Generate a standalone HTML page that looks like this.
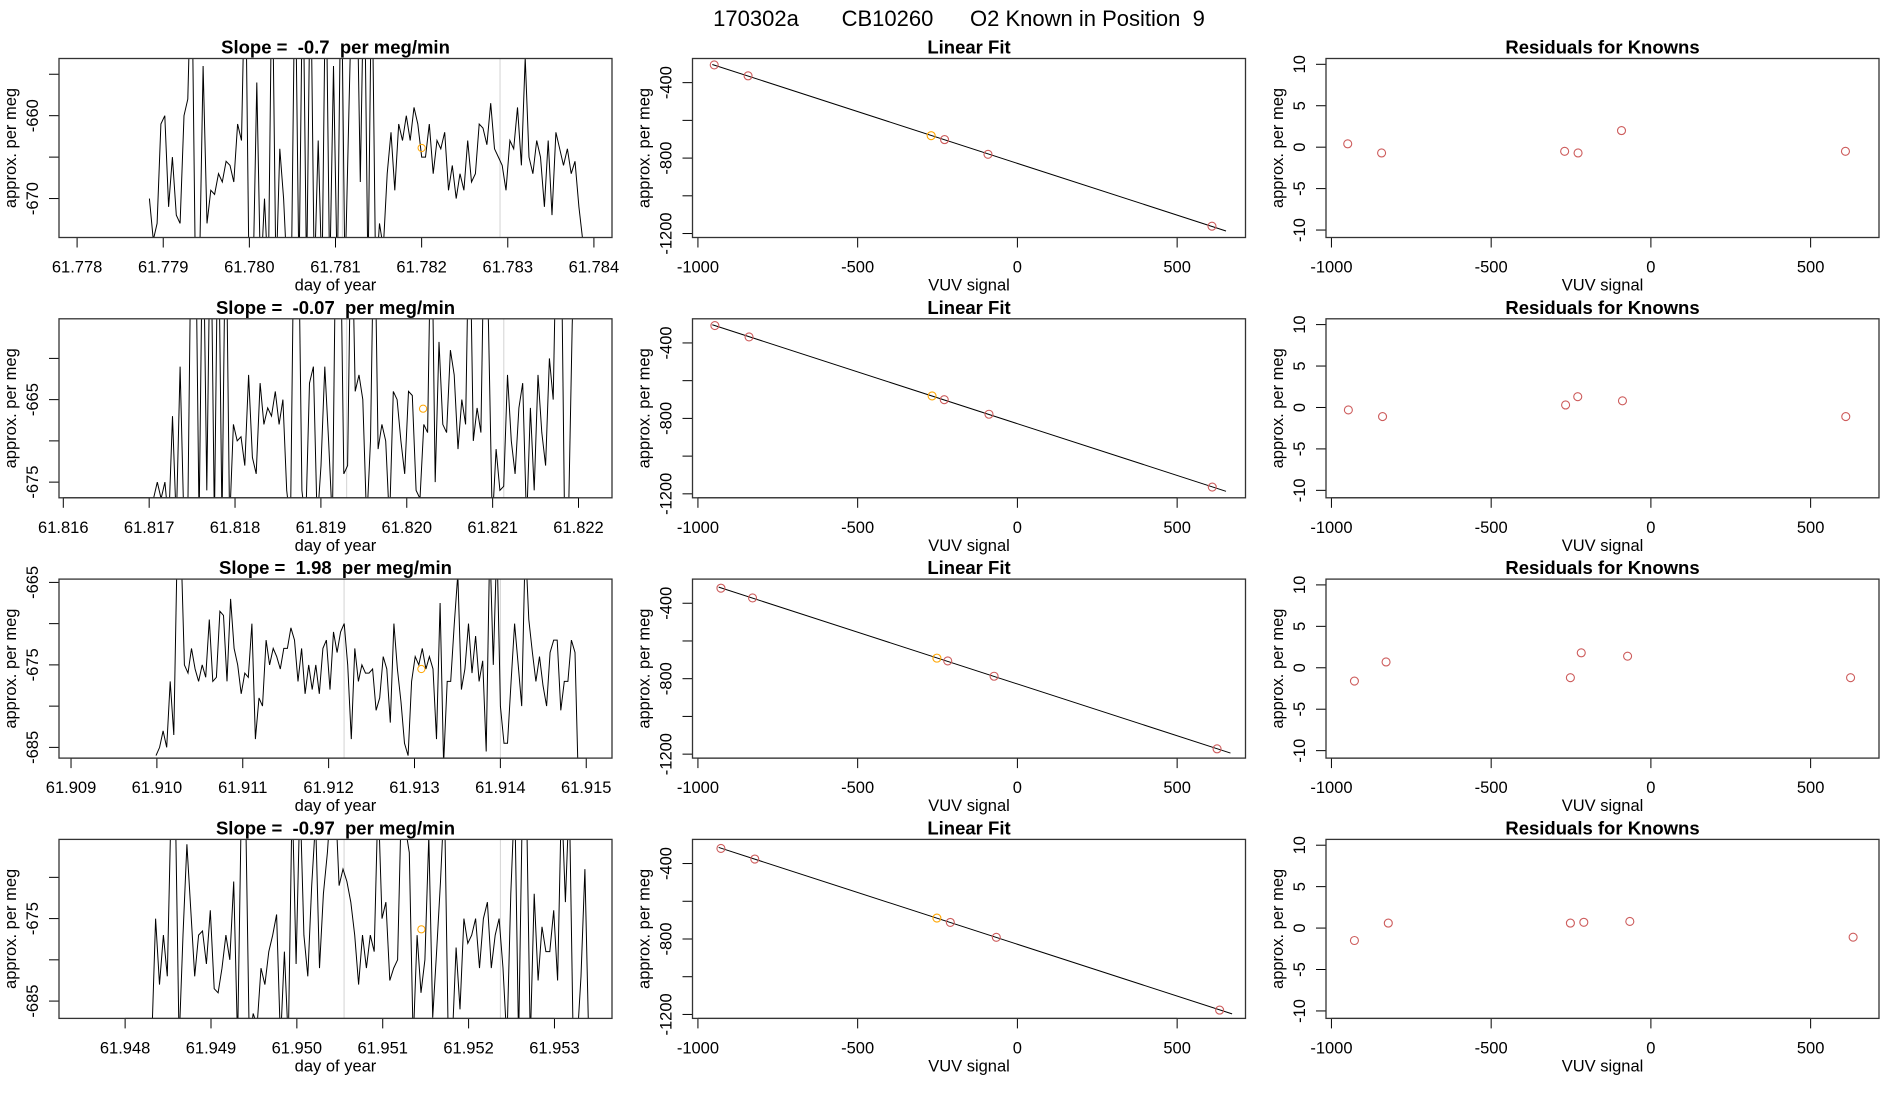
<!DOCTYPE html>
<html><head><meta charset="utf-8"><title>170302a CB10260 O2 Known in Position 9</title>
<style>
html,body{margin:0;padding:0;background:#fff;}
svg{display:block;font-family:"Liberation Sans",sans-serif;}
text{white-space:pre;}
</style></head>
<body>
<svg id="fig" width="1900" height="1100" viewBox="0 0 1900 1100" xmlns="http://www.w3.org/2000/svg">
<rect width="1900" height="1100" fill="#fff"/>
<text x="959" y="26" font-size="22" text-anchor="middle">170302a       CB10260      O2 Known in Position  9</text>
</svg>
<script>
// ---------- time-series data (col 1) ----------
const tsTitles = ["Slope =  -0.7  per meg/min","Slope =  -0.07  per meg/min","Slope =  1.98  per meg/min","Slope =  -0.97  per meg/min"];
const tsXlim = [[61.77779,61.78421],[61.81595,61.82239],[61.90886,61.91530],[61.94723,61.95367]];
const tsYlim = [[-674.7,-653.1],[-676.9,-655.2],[-686.3,-664.6],[-687.1,-665.4]];
const tsXticks = [[61.778,61.779,61.780,61.781,61.782,61.783,61.784],[61.816,61.817,61.818,61.819,61.820,61.821,61.822],[61.909,61.910,61.911,61.912,61.913,61.914,61.915],[61.948,61.949,61.950,61.951,61.952,61.953]];
const tsYticks = [[-670,-665,-660,-655],[-675,-670,-665,-660],[-685,-680,-675,-670,-665],[-685,-680,-675,-670]];
const tsYlabels = [[-670,-660],[-675,-665],[-685,-675,-665],[-685,-675]];
const tsStart = [61.77884,61.81705,61.90999,61.94831];
const tsEnd = [61.78387,61.82206,61.91491,61.95340];
const tsGrey = [[61.78108,61.78291],[61.81930,61.82113],[61.91218,61.91400],[61.95055,61.95237]];
const tsMarkX = [61.78200,61.82019,61.91308,61.95145];
const tsMarkY = [-663.9,-666.1,-675.5,-676.3];
const ts1 = [-670,-675,-673,-661,-660,-671,-665,-672,-673,-660,-658,-640,-680,-680,-654,-673,-669,-669.5,-667,-668,-665.5,-666,-668,-661,-663,-640,-680,-680,-656,-680,-670,-680,-640,-680,-664,-670,-680,-680,-640,-680,-640,-680,-640,-680,-663,-680,-640,-680,-654,-680,-640,-680,-660,-640,-640,-668,-640,-680,-640,-680,-673,-676,-667,-662,-669,-661,-663,-660,-663,-659,-661,-665,-665,-661,-667,-663,-664,-662,-669,-666,-670,-667,-669,-663,-668,-667,-661,-661.5,-663.5,-658.5,-664,-665,-666,-669,-663,-664,-659,-666,-653,-665,-667,-663,-665,-671,-663,-672,-662,-664,-666,-664,-667,-665.5,-671,-675];
const ts2 = [-677,-675,-677,-675,-680,-667,-680,-661,-680,-680,-640,-640,-680,-640,-676,-640,-680,-640,-680,-640,-680,-668,-670,-669.5,-673,-662,-672,-674,-663,-668,-666,-667,-664,-668,-665,-676,-680,-640,-640,-676,-680,-663,-661,-680,-673,-661,-670,-680,-640,-640,-674,-673,-640,-664,-662,-665,-680,-670,-640,-671,-668,-670,-680,-664,-665,-670,-674,-664,-664.5,-676,-677,-668,-669,-640,-675,-658,-668,-669,-659,-662,-671,-665,-668,-640,-670,-666,-669,-640,-656,-680,-671,-676,-675.5,-662,-670,-674,-666,-663,-680,-666,-676,-662,-669,-673,-660,-665,-640,-640,-680,-680,-656,-640,-640,-640];
const ts3 = [-686,-685,-683,-685,-677,-683.5,-660,-660,-675,-676,-673,-675.5,-677,-675,-676.5,-669.5,-677,-676.5,-668.5,-669,-677,-667,-673,-675,-678.5,-676,-676.5,-670,-684,-679,-680,-672,-675,-673,-674,-675.5,-673,-673,-670.5,-672,-677,-673,-678.5,-675,-678,-675,-678.5,-673,-672,-678,-671,-673.5,-671,-670,-675,-684,-673,-677,-675,-676,-676,-675.5,-680.5,-679,-674,-675.5,-682,-670,-675.5,-679.5,-684.5,-686,-677,-674,-675,-673,-675.5,-674,-675.5,-684,-667.5,-687,-677,-677,-670,-664,-678,-675.5,-670,-676,-671.5,-677,-674.5,-685.5,-660,-675,-660,-680,-684.5,-684.5,-677,-670,-675,-680,-660,-669.5,-673.5,-677,-674,-677.5,-680,-673.5,-672,-672,-680.5,-677,-677,-672,-673.5,-690];
const ts4 = [-690,-675,-683,-677,-682,-660,-660,-690,-677,-666,-674,-682,-677,-676.5,-680.5,-674,-683.5,-684,-681,-677,-680,-670.5,-690,-660,-660,-690,-686.5,-688,-681,-683,-679,-677,-674.5,-690,-679,-690,-660,-680.5,-660,-677,-682,-671,-663,-681,-672,-667,-660,-660,-671,-669,-670.5,-673,-677,-683,-677,-681,-677,-679,-660,-675,-673,-682.5,-681,-680,-660,-664,-667,-690,-677,-684,-680,-665,-687,-679,-670.5,-660,-690,-690,-678.5,-686,-675,-678,-677,-675,-681,-675,-673,-681,-677,-675,-681,-690,-672,-660,-690,-660,-660,-690,-672,-682.5,-676,-679,-679,-674,-682.5,-660,-673,-660,-690,-690,-682,-669,-690];
const tsSeries = [ts1,ts2,ts3,ts4];

// ---------- linear-fit data (col 2) ----------
const knownX1 = [-949,-843,-270,-228,-92,609];
const knownY1 = [-306,-364,-681,-702,-780,-1161];
const knownX2 = [-947,-840,-267,-229,-89,610];
const knownY2 = [-308,-368,-681,-701,-778,-1164];
const knownX3 = [-928,-829,-252,-218,-73,625];
const knownY3 = [-320,-372,-691,-706,-787,-1172];
const knownX4 = [-928,-822,-252,-210,-66,633];
const knownY4 = [-320,-376,-689,-712,-791,-1177];
const knownXs = [knownX1,knownX2,knownX3,knownX4];
const knownYs = [knownY1,knownY2,knownY3,knownY4];
const fitIntercept = [-828,-828,-828,-828];
const fitSlope = [-0.549,-0.549,-0.549,-0.549];
const fitXrange = [[-955,653],[-955,653],[-935,667],[-935,672]];
const orangeIndex = [2,2,2,2];
const lfXlim = [-1017,714];
const lfYlim = [-1221,-272];
const lfXticks = [-1000,-500,0,500];
const lfYticks = [-1200,-1000,-800,-600,-400];
const lfYlabels = [-1200,-800,-400];

// ---------- residual data (col 3) ----------
const resid1 = [0.4,-0.7,-0.5,-0.7,2.0,-0.5];
const resid2 = [-0.3,-1.1,0.3,1.3,0.8,-1.1];
const resid3 = [-1.6,0.7,-1.2,1.8,1.4,-1.2];
const resid4 = [-1.5,0.6,0.6,0.7,0.8,-1.1];
const resids = [resid1,resid2,resid3,resid4];
const resYlim = [-10.9,10.7];
const resYticks = [-10,-5,0,5,10];

const NS = "http://www.w3.org/2000/svg";
const svg = document.getElementById('fig');
function el(tag, attrs, parent, txt){
  const e = document.createElementNS(NS, tag);
  for (const k in attrs) e.setAttribute(k, attrs[k]);
  if (txt !== undefined) e.textContent = txt;
  (parent||svg).appendChild(e);
  return e;
}
function fmt(v, d){ return v.toFixed(d); }

function panel(col, row, cfg){
  const L = 59 + col*633.5, R = L + 553, T = 58.5 + row*260.3, B = T + 179;
  const g = el('g', {});
  
  
  const sx = v => L + (v - cfg.xlim[0])/(cfg.xlim[1]-cfg.xlim[0])*(R-L);
  const sy = v => B - (v - cfg.ylim[0])/(cfg.ylim[1]-cfg.ylim[0])*(B-T);
  const cid = 'clip'+col+'_'+row;
  const cp = el('clipPath', {id:cid}, g);
  el('rect', {x:L, y:T, width:R-L, height:B-T}, cp);
  const plot = el('g', {'clip-path':'url(#'+cid+')'}, g);
  
  
  const tt = el('text', {x:(L+R)/2, y:T-5, 'font-size':18.5, 'font-weight':'bold', 'text-anchor':'middle'}, g, cfg.title);
  
  
  const xt = el('g', {}, g);
  
  
  const x0 = sx(cfg.xticks[0]), x1 = sx(cfg.xticks[cfg.xticks.length-1]);
  el('line', {x1:x0, x2:x1, y1:B, y2:B, stroke:'#000', 'stroke-width':1}, xt);
  cfg.xticks.forEach(v => {
    const x = sx(v);
    el('line', {x1:x, x2:x, y1:B, y2:B+10, stroke:'#000', 'stroke-width':1}, xt);
    const t = el('text', {x:x, y:B+35, 'font-size':16.5, 'text-anchor':'middle'}, xt, cfg.xfmt(v));
    
    
  });
  const xl = el('text', {x:(L+R)/2, y:B+53, 'font-size':16.5, 'text-anchor':'middle'}, g, cfg.xlabel);
  
  
  const yt = el('g', {}, g);
  
  
  cfg.yticks.forEach(v => {
    const y = sy(v);
    el('line', {x1:L-10, x2:L, y1:y, y2:y, stroke:'#000', 'stroke-width':1}, yt);
  });
  cfg.ylabels.forEach(v => {
    const y = sy(v);
    const t = el('text', {x:0, y:0, 'font-size':16.5, 'text-anchor':'middle', transform:'translate('+(L-21)+','+y+') rotate(-90)'}, yt, String(v));
    
    
  });
  const yl = el('text', {x:0, y:0, 'font-size':16.5, 'text-anchor':'middle', transform:'translate('+(L-43)+','+((T+B)/2)+') rotate(-90)'}, g, 'approx. per meg');
  
  
  cfg.draw(plot, sx, sy);
  const bx = el('rect', {x:L, y:T, width:R-L, height:B-T, fill:'none', stroke:'#333', 'stroke-width':1.3}, g);
  
  
}

for (let r = 0; r < 4; r++){
  panel(0, r, {
    name:'time-series-panel-'+(r+1), title:tsTitles[r], xlim:tsXlim[r], ylim:tsYlim[r],
    xticks:tsXticks[r], yticks:tsYticks[r], ylabels:tsYlabels[r], xlabel:'day of year',
    xfmt: v => fmt(v,3),
    draw:(p, sx, sy) => {
      tsGrey[r].forEach(t => {
        const gl = el('line', {x1:sx(t), x2:sx(t), y1:0, y2:1100, stroke:'#d3d3d3', 'stroke-width':1}, p);
        
        
      });
      const vals = tsSeries[r];
      const n = vals.length;
      const pts = vals.map((v,i) => sx(tsStart[r] + (tsEnd[r]-tsStart[r])*i/(n-1)).toFixed(1)+','+sy(v).toFixed(1)).join(' ');
      const pl = el('polyline', {points:pts, fill:'none', stroke:'#000', 'stroke-width':1}, p);
      
      
      const c = el('circle', {cx:sx(tsMarkX[r]), cy:sy(tsMarkY[r]), r:3.6, fill:'none', stroke:'#ffa500', 'stroke-width':1}, p);
      
      
    }
  });
  panel(1, r, {
    name:'linear-fit-panel-'+(r+1), title:'Linear Fit', xlim:lfXlim, ylim:lfYlim,
    xticks:lfXticks, yticks:lfYticks, ylabels:lfYlabels, xlabel:'VUV signal',
    xfmt: v => String(v),
    draw:(p, sx, sy) => {
      const xa = fitXrange[r][0], xb = fitXrange[r][1];
      const ln = el('line', {x1:sx(xa), y1:sy(fitIntercept[r]+fitSlope[r]*xa), x2:sx(xb), y2:sy(fitIntercept[r]+fitSlope[r]*xb), stroke:'#000', 'stroke-width':1}, p);
      
      
      knownXs[r].forEach((x,i) => {
        const c = el('circle', {cx:sx(x), cy:sy(knownYs[r][i]), r:4, fill:'none', stroke: i===orangeIndex[r] ? '#ffa500' : '#cd5c5c', 'stroke-width':1.1}, p);
        
        
      });
    }
  });
  panel(2, r, {
    name:'residuals-panel-'+(r+1), title:'Residuals for Knowns', xlim:lfXlim, ylim:resYlim,
    xticks:lfXticks, yticks:resYticks, ylabels:resYticks, xlabel:'VUV signal',
    xfmt: v => String(v),
    draw:(p, sx, sy) => {
      knownXs[r].forEach((x,i) => {
        const c = el('circle', {cx:sx(x), cy:sy(resids[r][i]), r:4, fill:'none', stroke:'#cd5c5c', 'stroke-width':1.1}, p);
        
        
      });
    }
  });
}
</script>
</body></html>
